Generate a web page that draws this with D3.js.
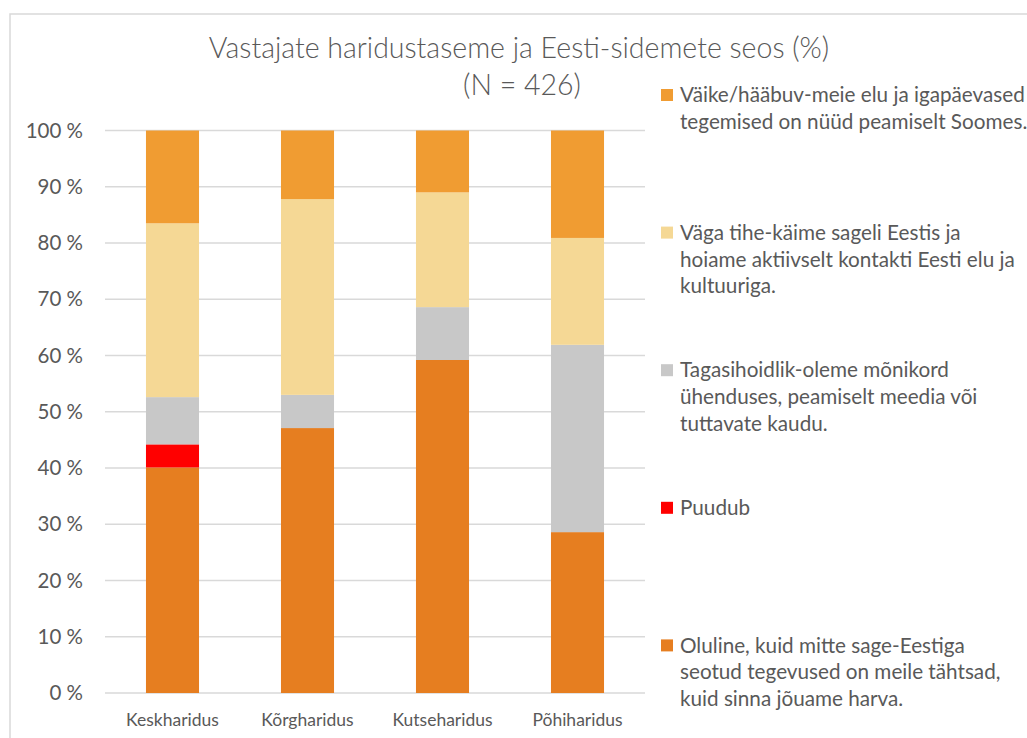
<!DOCTYPE html>
<html>
<head>
<meta charset="utf-8">
<script src="https://cdn.jsdelivr.net/npm/d3@7"></script>
<style>
  body { margin: 0; background: #fff; }
  svg { display: block; font-family: Lato, "Open Sans", sans-serif; }
</style>
</head>
<body>
<svg id="chart" width="1027" height="738"></svg>
<script>
const categories = ['Keskharidus', 'Kõrgharidus', 'Kutseharidus', 'Põhiharidus'];

// series, bottom to top of the stack
const seriesKeys = ['oluline', 'puudub', 'tagasihoidlik', 'vagaTihe', 'vaike'];
const oluline = [40.1, 47.1, 59.2, 28.6];
const puudub = [4.1, 0, 0, 0];
const tagasihoidlik = [8.4, 5.9, 9.4, 33.3];
const vagaTihe = [30.9, 34.8, 20.4, 19.0];
const vaike = [16.5, 12.2, 11.0, 19.1];

const seriesColors = ['#e67e20', '#ff0000', '#c8c8c8', '#f5d895', '#f09c32'];

// legend, top to bottom (already wrapped as in the picture)
const legendKeys = ['vaike', 'vagaTihe', 'tagasihoidlik', 'puudub', 'oluline'];
const legendLines = [
  ['Väike/hääbuv-meie elu ja igapäevased', 'tegemised on nüüd peamiselt Soomes.'],
  ['Väga tihe-käime sageli Eestis ja', 'hoiame aktiivselt kontakti Eesti elu ja', 'kultuuriga.'],
  ['Tagasihoidlik-oleme mõnikord', 'ühenduses, peamiselt meedia või', 'tuttavate kaudu.'],
  ['Puudub'],
  ['Oluline, kuid mitte sage-Eestiga', 'seotud tegevused on meile tähtsad,', 'kuid sinna jõuame harva.']
];

const yTicks = [0, 10, 20, 30, 40, 50, 60, 70, 80, 90, 100];

const titleLines = ['Vastajate haridustaseme ja Eesti-sidemete seos (%)', '(N = 426)'];

const rows = categories.map((c, i) => ({
  cat: c,
  oluline: oluline[i],
  puudub: puudub[i],
  tagasihoidlik: tagasihoidlik[i],
  vagaTihe: vagaTihe[i],
  vaike: vaike[i]
}));

const svg = d3.select('#chart');
const textColor = '#595959';
const gridColor = '#d9d9d9';

// outer chart border
svg.append('rect')
  .attr('x', 10).attr('y', 14)
  .attr('width', 1040).attr('height', 760)
  .attr('fill', 'none')
  .attr('stroke', gridColor)
  .attr('stroke-width', 1.5);

const plot = {left: 105, right: 645, top: 130.5, bottom: 693};

const x = d3.scaleBand().domain(categories).range([plot.left, plot.right]).paddingInner(0.607).paddingOuter(0.3035);
const y = d3.scaleLinear().domain([0, 100]).range([plot.bottom, plot.top]);

// grid
svg.append('g')
  .selectAll('line')
  .data(yTicks)
  .join('line')
    .attr('x1', plot.left).attr('x2', plot.right)
    .attr('y1', d => y(d)).attr('y2', d => y(d))
    .attr('stroke', gridColor)
    .attr('stroke-width', 1.5);

// y labels
svg.append('g')
  .selectAll('text')
  .data(yTicks)
  .join('text')
    .attr('x', 83)
    .attr('y', d => y(d))
    .attr('dy', '0.35em')
    .attr('text-anchor', 'end')
    .attr('fill', textColor)
    .style('font-size', '20.5px')
    .text(d => d + ' %');

// stacked bars
const stack = d3.stack().keys(seriesKeys);
const layers = stack(rows);

svg.append('g')
  .selectAll('g')
  .data(layers)
  .join('g')
    .attr('fill', (d, i) => seriesColors[i])
  .selectAll('rect')
  .data(d => d)
  .join('rect')
    .attr('x', d => x(d.data.cat))
    .attr('y', d => y(d[1]))
    .attr('width', x.bandwidth())
    .attr('height', d => y(d[0]) - y(d[1]));

// x labels
svg.append('g')
  .selectAll('text')
  .data(categories)
  .join('text')
    .attr('x', d => x(d) + x.bandwidth() / 2)
    .attr('y', 720)
    .attr('dy', '0.35em')
    .attr('text-anchor', 'middle')
    .attr('fill', textColor)
    .style('font-size', '17.5px')
    .text(d => d);

// title
svg.append('g')
  .selectAll('text')
  .data(titleLines)
  .join('text')
    .attr('x', (d, i) => i === 0 ? 519 : 522)
    .attr('y', (d, i) => 48 + i * 37)
    .attr('dy', '0.35em')
    .attr('text-anchor', 'middle')
    .attr('fill', textColor)
    .style('font-size', '28.5px')
    .style('font-weight', 300)
    .text(d => d);

// legend
const legend = svg.append('g')
  .selectAll('g')
  .data(legendKeys)
  .join('g')
    .attr('transform', (d, i) => `translate(661, ${95 + i * 137.6})`);

legend.append('rect')
  .attr('x', 0).attr('y', -6)
  .attr('width', 12).attr('height', 12)
  .attr('fill', d => seriesColors[seriesKeys.indexOf(d)]);

legend.append('text')
  .attr('fill', textColor)
  .style('font-size', '20.7px')
  .selectAll('tspan')
  .data((d, i) => legendLines[i])
  .join('tspan')
    .attr('x', 19)
    .attr('y', (d, i) => i * 26.7)
    .attr('dy', '0.35em')
    .text(d => d);
</script>
</body>
</html>
